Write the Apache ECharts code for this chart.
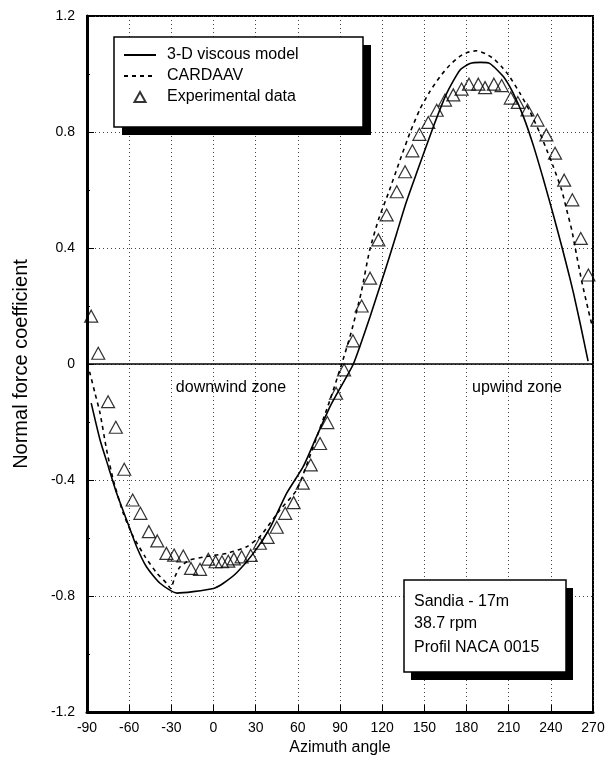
<!DOCTYPE html>
<html>
<head>
<meta charset="utf-8">
<script src="https://cdn.jsdelivr.net/npm/echarts@6/dist/echarts.min.js"></script>
<style>
  html, body { margin: 0; padding: 0; background: #fff; }
  #chart { width: 608px; height: 769px; }
</style>
</head>
<body>
<div id="chart"></div>
<script>
// Normal force coefficient vs azimuth angle, Sandia 17m rotor

const xTicks = [-90, -60, -30, 0, 30, 60, 90, 120, 150, 180, 210, 240, 270];
const yTicks = [-1.2, -0.8, -0.4, 0, 0.4, 0.8, 1.2];

// 3-D viscous model (solid line)
const viscousAngle = [-87, -80.7, -74.8, -68.9, -61.8, -54.7, -47.6, -38, -26, -14.5, 0, 7, 16.5, 28.3, 40.2, 52, 63.8, 73, 82.9, 91, 99.5, 111.5, 124, 130.4, 137, 144.6, 156.4, 165.9, 175.4, 182.5, 190, 196.7, 206.2, 213.3, 220.5, 227.6, 234.7, 241.8, 247.7, 252, 256, 261, 266.5];
const viscousCn = [-0.135, -0.262, -0.354, -0.446, -0.538, -0.63, -0.70, -0.756, -0.79, -0.785, -0.774, -0.756, -0.72, -0.653, -0.565, -0.446, -0.354, -0.254, -0.147, -0.075, 0, 0.165, 0.352, 0.452, 0.556, 0.66, 0.818, 0.933, 1.014, 1.036, 1.04, 1.036, 0.991, 0.933, 0.853, 0.753, 0.637, 0.514, 0.407, 0.326, 0.247, 0.137, 0.01];

// CARDAAV (dashed line)
const cardaavAngle = [-90, -87.9, -84.3, -80.7, -76, -71.3, -64.2, -57.1, -48.7, -40.5, -33.4, -30.5, -27.4, -23.9, -16.7, -4.9, 9.3, 23.6, 33, 47.3, 59.2, 71, 82.9, 91.2, 98, 105, 111, 117.5, 124.4, 132.7, 140, 147, 154, 161, 168, 175, 181, 187, 194.3, 200, 205, 209.8, 218.1, 225.2, 232.3, 237.1, 241.8, 247.7, 251.3, 254.9, 257.2, 262, 266.7, 269.5];
const cardaavCn = [0, -0.032, -0.101, -0.17, -0.297, -0.4, -0.515, -0.595, -0.664, -0.72, -0.756, -0.774, -0.733, -0.70, -0.676, -0.664, -0.653, -0.63, -0.595, -0.503, -0.434, -0.285, -0.124, 0, 0.11, 0.245, 0.39, 0.5, 0.589, 0.703, 0.8, 0.88, 0.94, 0.99, 1.03, 1.06, 1.075, 1.08, 1.068, 1.05, 1.025, 0.997, 0.933, 0.87, 0.795, 0.738, 0.68, 0.6, 0.531, 0.462, 0.404, 0.285, 0.185, 0.13];

// Experimental data (triangles)
const expAngle = [-87, -82, -75, -69.5, -63.5, -57.5, -52, -46, -40, -33.5, -28, -21.5, -16, -9.6, -3.7, 1.5, 6, 10.5, 14.5, 20, 26.5, 33, 38.5, 45, 51, 57, 63.5, 69.2, 75.8, 81, 87.2, 92.9, 99.2, 105.4, 111.4, 117.3, 123.2, 130.4, 136.3, 141.5, 146.5, 152.8, 158.8, 164.7, 170.6, 176.5, 181.8, 188.4, 193.2, 199.5, 205, 211.5, 216.5, 223.4, 230.5, 236.8, 243, 249.5, 255.3, 261.3, 266.7];
const expCn = [0.165, 0.037, -0.13, -0.218, -0.363, -0.469, -0.515, -0.578, -0.61, -0.653, -0.659, -0.662, -0.705, -0.708, -0.673, -0.682, -0.682, -0.68, -0.672, -0.665, -0.66, -0.618, -0.598, -0.563, -0.515, -0.478, -0.411, -0.348, -0.274, -0.202, -0.101, -0.02, 0.08, 0.2, 0.296, 0.428, 0.514, 0.594, 0.663, 0.735, 0.792, 0.833, 0.875, 0.91, 0.928, 0.948, 0.965, 0.965, 0.953, 0.965, 0.96, 0.917, 0.902, 0.876, 0.841, 0.79, 0.727, 0.634, 0.566, 0.433, 0.307];

const seriesNames = ['3-D viscous model', 'CARDAAV', 'Experimental data'];
const zoneLabels = ['downwind zone', 'upwind zone'];
const infoLines = ['Sandia - 17m', '38.7 rpm', 'Profil NACA 0015'];

const zip = (xs, ys) => xs.map((x, i) => [x, ys[i]]);
const FONT = "'Liberation Sans', Arial, Helvetica, sans-serif";
const fmt = v => String(Math.round(v * 10) / 10);
const hidden = { color: 'rgba(0,0,0,0)', borderColor: 'rgba(0,0,0,0)', borderWidth: 0 };

const chart = echarts.init(document.getElementById('chart'));

chart.setOption({
  backgroundColor: '#fff',
  animation: false,
  textStyle: { fontFamily: FONT, color: '#000' },
  grid: {
    left: 87, right: 15, top: 16, bottom: 57,
    show: true, borderColor: '#000', borderWidth: 2, backgroundColor: 'transparent'
  },
  xAxis: {
    type: 'value',
    min: xTicks[0], max: xTicks[xTicks.length - 1], interval: 30,
    name: 'Azimuth angle', nameLocation: 'middle', nameGap: 26,
    nameTextStyle: { fontSize: 16, color: '#000', fontFamily: FONT },
    axisLine: { show: true, onZero: false, lineStyle: { color: '#000', width: 3 } },
    axisTick: { show: true, inside: true, length: 7, lineStyle: { color: '#000', width: 1 } },
    axisLabel: { fontSize: 14, color: '#000', margin: 9, fontFamily: FONT, formatter: fmt },
    splitLine: { show: true, lineStyle: { color: '#444', width: 1, type: [1, 3] } }
  },
  yAxis: {
    type: 'value',
    min: yTicks[0], max: yTicks[yTicks.length - 1], interval: 0.4,
    name: 'Normal force coefficient', nameLocation: 'middle', nameGap: 56,
    nameTextStyle: { fontSize: 20, color: '#000', fontFamily: FONT },
    axisLine: { show: true, onZero: false, lineStyle: { color: '#000', width: 3 } },
    axisTick: { show: true, inside: true, length: 7, lineStyle: { color: '#000', width: 1 } },
    minorTick: { show: true, splitNumber: 2, length: 3, lineStyle: { color: '#000', width: 1 } },
    axisLabel: { fontSize: 14, color: '#000', margin: 12, fontFamily: FONT, formatter: fmt },
    splitLine: { show: true, lineStyle: { color: '#444', width: 1, type: [1, 3] } }
  },
  legend: {
    orient: 'vertical',
    left: 118, top: 42,
    itemWidth: 32, itemHeight: 10, itemGap: 5,
    symbolKeepAspect: true,
    z: 6,
    data: [
      { name: seriesNames[0], itemStyle: hidden },
      { name: seriesNames[1], itemStyle: hidden },
      { name: seriesNames[2], icon: 'path://M5,0L10,9L0,9Z' }
    ],
    textStyle: { fontSize: 16, color: '#000', fontFamily: FONT, padding: [0, 0, 0, 6] }
  },
  graphic: [
    // legend frame with drop shadow
    { type: 'rect', z: 4, shape: { x: 122, y: 45, width: 249, height: 90 }, style: { fill: '#000' } },
    { type: 'rect', z: 4, shape: { x: 114, y: 37, width: 249, height: 90 }, style: { fill: '#fff', stroke: '#000', lineWidth: 1.5 } },
    // info box with drop shadow
    { type: 'rect', z: 4, shape: { x: 411, y: 588, width: 162, height: 92 }, style: { fill: '#000' } },
    { type: 'rect', z: 4, shape: { x: 404, y: 580, width: 162, height: 92 }, style: { fill: '#fff', stroke: '#000', lineWidth: 1.5 } },
    { type: 'text', z: 5, x: 414, y: 602, style: { text: infoLines[0], font: '16px ' + FONT, fill: '#000', verticalAlign: 'middle' } },
    { type: 'text', z: 5, x: 414, y: 624, style: { text: infoLines[1], font: '16px ' + FONT, fill: '#000', verticalAlign: 'middle' } },
    { type: 'text', z: 5, x: 414, y: 648, style: { text: infoLines[2], font: '16px ' + FONT, fill: '#000', verticalAlign: 'middle' } },
    // zone annotations
    { type: 'text', z: 5, x: 231, y: 388, style: { text: zoneLabels[0], font: '16px ' + FONT, fill: '#000', align: 'center', verticalAlign: 'middle' } },
    { type: 'text', z: 5, x: 517, y: 388, style: { text: zoneLabels[1], font: '16px ' + FONT, fill: '#000', align: 'center', verticalAlign: 'middle' } }
  ],
  series: [
    {
      name: seriesNames[0],
      type: 'line',
      data: zip(viscousAngle, viscousCn),
      symbol: 'none',
      smooth: 0.2,
      lineStyle: { color: '#000', width: 1.6, type: 'solid' },
      itemStyle: { color: '#000' },
      z: 2,
      markLine: {
        silent: true,
        symbol: ['none', 'none'],
        label: { show: false },
        lineStyle: { color: '#000', width: 1.5, type: 'solid' },
        data: [{ yAxis: 0 }]
      }
    },
    {
      name: seriesNames[1],
      type: 'line',
      data: zip(cardaavAngle, cardaavCn),
      symbol: 'none',
      smooth: 0.2,
      lineStyle: { color: '#000', width: 1.6, type: [4, 4] },
      itemStyle: { color: '#000' },
      z: 2
    },
    {
      name: seriesNames[2],
      type: 'scatter',
      data: zip(expAngle, expCn),
      symbol: 'triangle',
      symbolSize: [13, 12],
      itemStyle: { color: 'rgba(255,255,255,0)', borderColor: '#000', borderWidth: 1.2 },
      z: 3
    }
  ]
});
</script>
</body>
</html>
